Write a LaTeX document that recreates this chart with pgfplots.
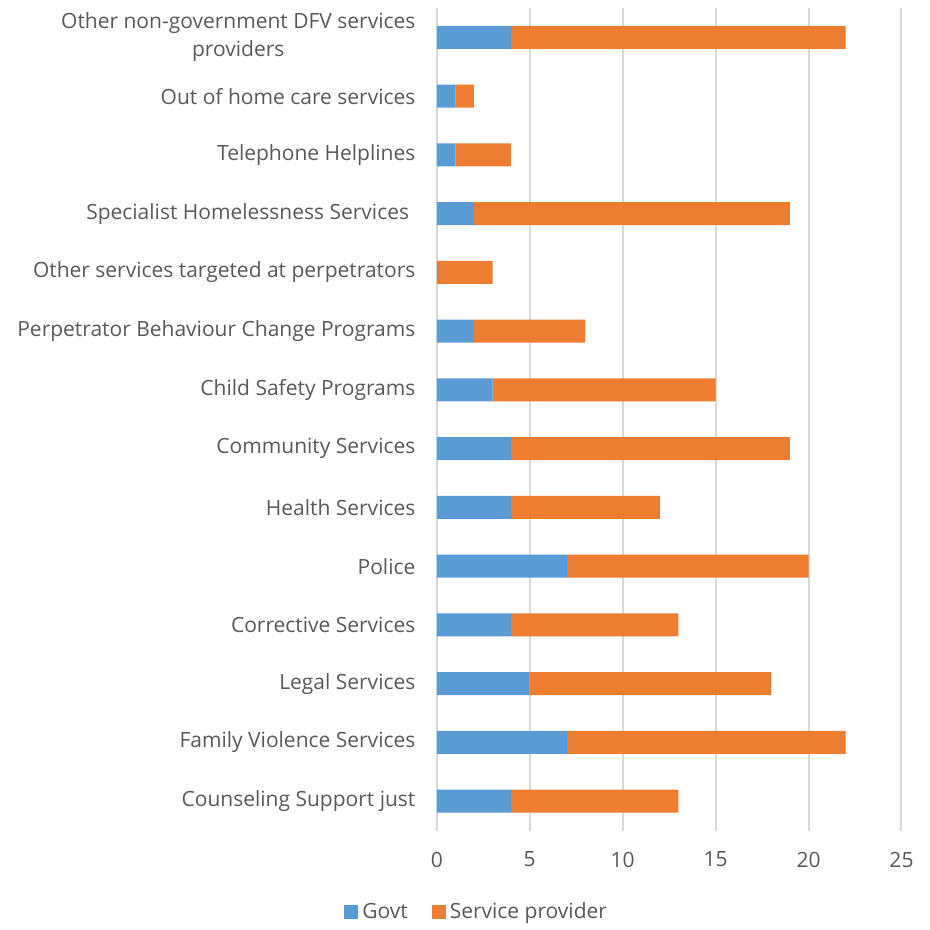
\documentclass[border=0pt]{standalone}
\usepackage{fontspec}
\setmainfont{Open Sans}
\usepackage{pgfplots}
\usepackage{pgfplotstable}
\pgfplotsset{compat=1.18}

\definecolor{govt}{HTML}{5B9BD5}
\definecolor{sprov}{HTML}{ED7D31}
\definecolor{txt}{HTML}{595959}
\definecolor{gridc}{HTML}{D9D9D9}

% y govt provider
\pgfplotstableread{
y  govt  prov
0  4  9
1  7  15
2  5  13
3  4  9
4  7  13
5  4  8
6  4  15
7  3  12
8  2  6
9  0  3
10 2  17
11 1  3
12 1  1
13 4  18
}\services

\begin{document}
\fontsize{10.5pt}{14pt}\selectfont
\begin{tikzpicture}
\begin{axis}[
  name=ax,
  xbar stacked,
  scale only axis,
  width=232.5pt,
  height=411.5pt,
  bar width=11.5pt,
  xmin=0, xmax=25,
  ymin=-0.5, ymax=13.5,
  xtick={0,5,...,25},
  ytick={0,...,13},
  yticklabels={
    {Counseling Support just},
    {Family Violence Services},
    {Legal Services},
    {Corrective Services},
    {Police},
    {Health Services},
    {Community Services},
    {Child Safety Programs},
    {Perpetrator Behaviour Change Programs},
    {Other services targeted at perpetrators},
    {Specialist Homelessness Services\hspace*{0.3em}},
    {Telephone Helplines},
    {Out of home care services},
    {Other non-government DFV services\\providers}
  },
  yticklabel style={align=center, text=txt, font=\fontsize{10.5pt}{14pt}\selectfont, xshift=-7pt},
  xticklabel style={text=txt, font=\fontsize{10.5pt}{14pt}\selectfont, yshift=-7pt},
  /pgf/number format/assume math mode=true,
  axis line style={draw=none},
  major tick length=0pt,
  xmajorgrids,
  grid style={gridc, line width=1pt},
  legend style={
    at={(0.088,-0.0996)},
    anchor=center,
    draw=none,
    legend columns=2,
    font=\fontsize{10.5pt}{14pt}\selectfont,
    text=txt,
    /tikz/every even column/.append style={column sep=10pt},
  },
  legend image code/.code={
    \fill[#1] (0pt,-3.5pt) rectangle (7pt,3.5pt);
  },
]
\addplot[fill=govt, draw=none] table[x=govt, y=y] {\services};
\addplot[fill=sprov, draw=none] table[x=prov, y=y] {\services};
\legend{Govt, Service provider}
\end{axis}
\path (ax.south west) ++(-218.5pt,-47.5pt);
\path (ax.north east) ++(14pt,4pt);
\end{tikzpicture}
\end{document}
